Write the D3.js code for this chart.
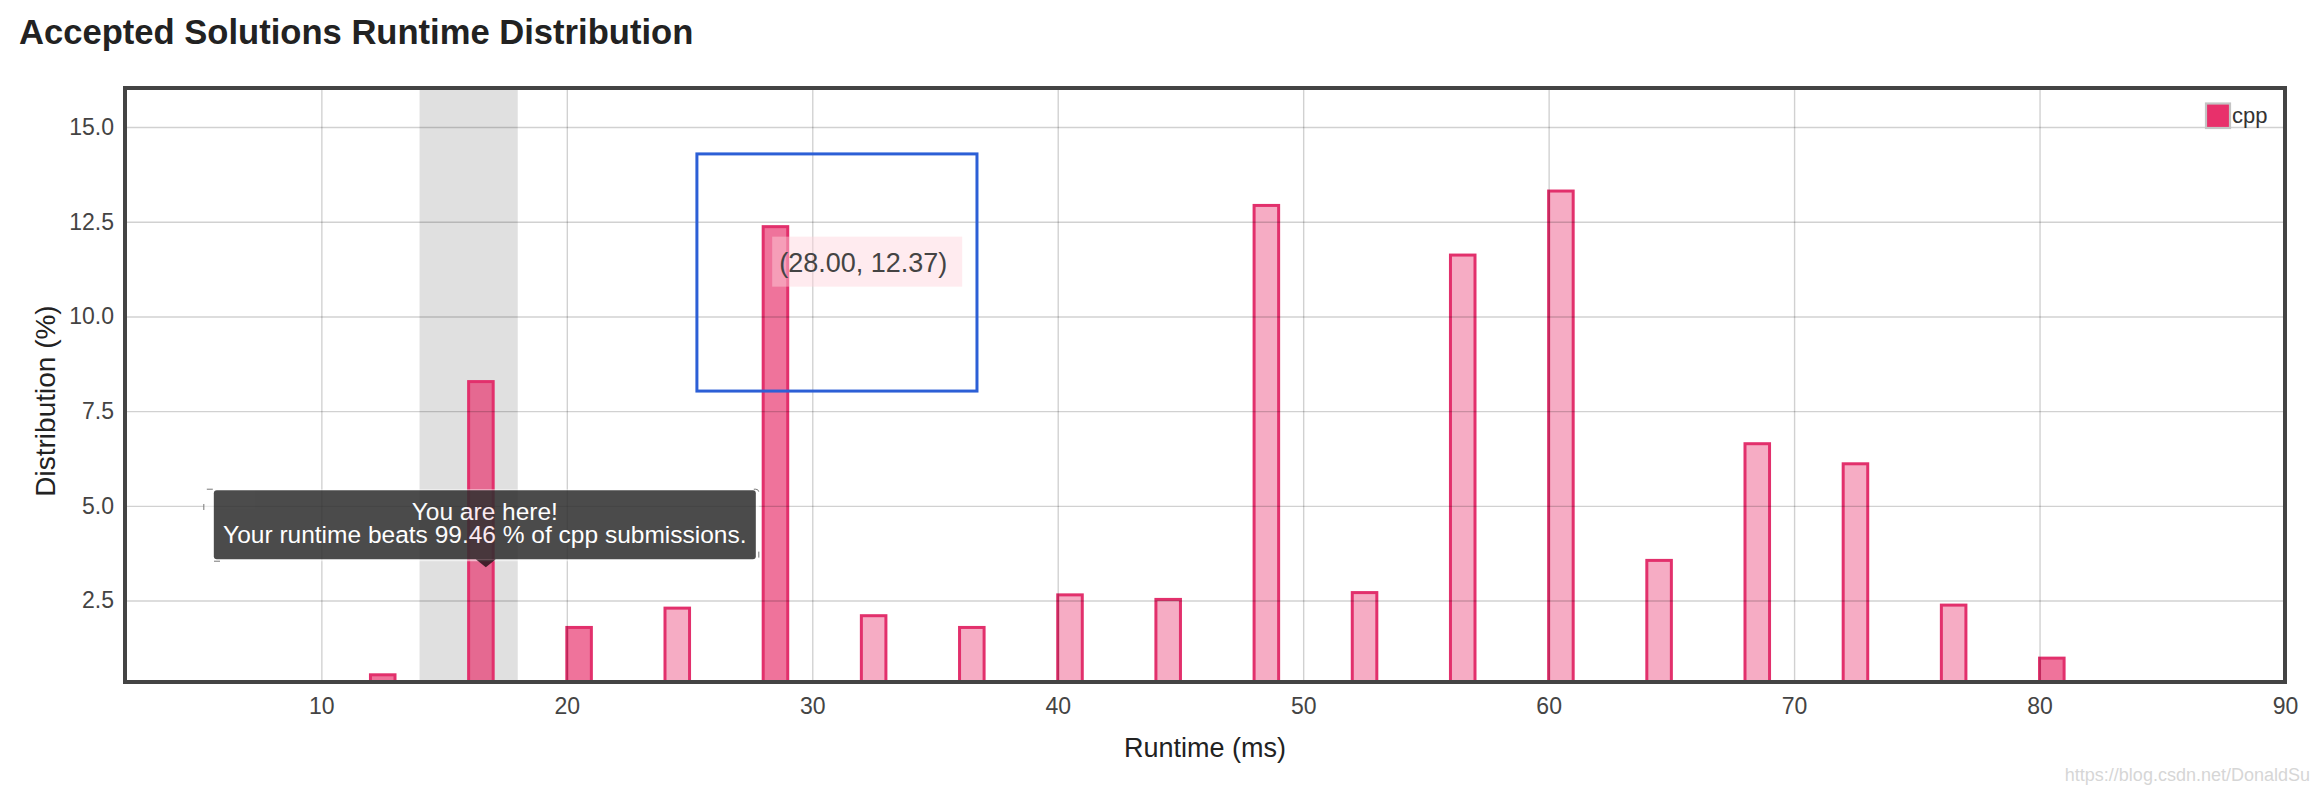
<!DOCTYPE html>
<html><head><meta charset="utf-8">
<script src="https://cdn.jsdelivr.net/npm/d3@7"></script>
<style>
html,body{margin:0;padding:0;background:#fff;}
svg{display:block;font-family:"Liberation Sans",Arial,Helvetica,sans-serif;}
</style></head><body>
<svg id="chart" width="2320" height="792"></svg>
<script>
// ---- data ----
const runtimes = [12, 16, 20, 24, 28, 32, 36, 40, 44, 48, 52, 56, 60, 64, 68, 72, 76, 80];
const distribution = [0.54, 8.28, 1.79, 2.30, 12.37, 2.10, 1.79, 2.65, 2.53, 12.93, 2.71, 11.62, 13.31, 3.56, 6.64, 6.11, 2.38, 0.98];
const darkBars = [12, 16, 20, 28, 80];
const xTicks = [10, 20, 30, 40, 50, 60, 70, 80, 90];
const yTicks = [2.5, 5.0, 7.5, 10.0, 12.5, 15.0];
const xDomain = [2, 90];
const yDomain = [0.35, 16.03];
const yourBin = [14, 18];
const seriesName = "cpp";
const hovered = {x: 28, y: 12.37};
const beatsPct = 99.46;
const titleText = "Accepted Solutions Runtime Distribution";
const xLabel = "Runtime (ms)";
const yLabel = "Distribution (%)";
const watermark = "https://blog.csdn.net/DonaldSu";
// annotation box (data units)
const annot = {x0: 25.3, x1: 36.71, y0: 8.03, y1: 14.29};
const tipAnchor = {x: 16.7, y: 3.38};

// ---- layout ----
const svg = d3.select("#chart");
const L = 125, R = 2285, T = 88, B = 682;
const x = d3.scaleLinear().domain(xDomain).range([L, R]);
const y = d3.scaleLinear().domain(yDomain).range([B, T]);
const data = runtimes.map((r, i) => ({r, v: distribution[i], dark: darkBars.includes(r)}));

svg.append("defs").append("clipPath").attr("id", "plotclip")
  .append("rect").attr("x", L).attr("y", T).attr("width", R - L).attr("height", B - T);

// title
svg.append("text").attr("x", 19).attr("y", 44)
  .attr("font-size", 34.6).attr("font-weight", "bold").attr("fill", "#222")
  .text(titleText);

const plot = svg.append("g").attr("clip-path", "url(#plotclip)");

// your bin band
plot.append("rect")
  .attr("x", x(yourBin[0])).attr("width", x(yourBin[1]) - x(yourBin[0]))
  .attr("y", T).attr("height", B - T).attr("fill", "#e0e0e0");

// bars
plot.selectAll("rect.bar").data(data).enter().append("rect")
  .attr("class", "bar")
  .attr("x", d => x(d.r))
  .attr("width", d => x(d.r + 1) - x(d.r))
  .attr("y", d => y(d.v))
  .attr("height", d => B + 4 - y(d.v))
  .attr("fill", d => d.dark ? "rgba(232,48,107,0.68)" : "rgba(232,48,107,0.40)")
  .attr("stroke", "#e2306c").attr("stroke-width", 3);

// grid
const gridY = svg.append("g").attr("transform", `translate(${L},0)`)
  .call(d3.axisLeft(y).tickValues(yTicks).tickSize(-(R - L)).tickFormat(""));
gridY.select(".domain").remove();
gridY.selectAll("line").attr("stroke", "rgba(0,0,0,0.18)").attr("stroke-width", 1.4);
const gridX = svg.append("g").attr("transform", `translate(0,${B})`)
  .call(d3.axisBottom(x).tickValues(xTicks.filter(t => t < xDomain[1])).tickSize(-(B - T)).tickFormat(""));
gridX.select(".domain").remove();
gridX.selectAll("line").attr("stroke", "rgba(0,0,0,0.18)").attr("stroke-width", 1.4);

// frame
svg.append("rect").attr("x", L).attr("y", T).attr("width", R - L).attr("height", B - T)
  .attr("fill", "none").attr("stroke", "#444").attr("stroke-width", 4);

// axes labels
const yAxis = svg.append("g").attr("transform", `translate(${L},0)`)
  .call(d3.axisLeft(y).tickValues(yTicks).tickFormat(d3.format(".1f")).tickSize(0).tickPadding(11));
yAxis.select(".domain").remove();
yAxis.selectAll("text").attr("font-size", 23).attr("fill", "#444").attr("font-family", null);

const xAxis = svg.append("g").attr("transform", `translate(0,${B})`)
  .call(d3.axisBottom(x).tickValues(xTicks).tickFormat(d3.format("d")).tickSize(0).tickPadding(16));
xAxis.select(".domain").remove();
xAxis.selectAll("text").attr("font-size", 23).attr("fill", "#444").attr("font-family", null);

svg.append("text").attr("x", (L + R) / 2).attr("y", 757).attr("text-anchor", "middle")
  .attr("font-size", 27).attr("fill", "#222").text(xLabel);
svg.append("text").attr("transform", `translate(55,401) rotate(-90)`)
  .attr("text-anchor", "middle").attr("font-size", 28).attr("fill", "#222").text(yLabel);

// legend
const lg = svg.append("g");
lg.append("rect").attr("x", 2206).attr("y", 103.5).attr("width", 24).attr("height", 24.5)
  .attr("fill", "#e8306b").attr("stroke", "#c4c4c4").attr("stroke-width", 2.2);
lg.append("text").attr("x", 2232).attr("y", 123).attr("font-size", 22).attr("fill", "#333").text(seriesName);

// hovered value label
const hx = x(hovered.x), hy = y(hovered.y);
svg.append("rect").attr("x", hx + 9).attr("y", hy + 10).attr("width", 190).attr("height", 50)
  .attr("fill", "rgba(255,210,220,0.45)");
svg.append("text").attr("x", hx + 16).attr("y", hy + 45).attr("font-size", 27).attr("fill", "#444")
  .text(`(${hovered.x.toFixed(2)}, ${hovered.y.toFixed(2)})`);

// annotation box
svg.append("rect").attr("x", x(annot.x0)).attr("y", y(annot.y1))
  .attr("width", x(annot.x1) - x(annot.x0)).attr("height", y(annot.y0) - y(annot.y1))
  .attr("fill", "none").attr("stroke", "#2c5fd6").attr("stroke-width", 3);

// "You are here" tooltip
const tx = x(tipAnchor.x), ty = y(tipAnchor.y);
const tipW = 542, tipH = 69;
const tip = svg.append("g");
tip.append("rect").attr("x", tx - 282).attr("y", ty - tipH - 9).attr("width", 555).attr("height", 72)
  .attr("rx", 3).attr("fill", "rgba(255,255,255,0.55)").attr("stroke", "#777").attr("stroke-width", 1)
  .attr("stroke-dasharray", "6,541,6,60,6,541,6,60");
const tipInner = tip.append("g").attr("opacity", 0.7);
tipInner.append("rect").attr("x", tx - tipW / 2 - 1).attr("y", ty - tipH - 8).attr("width", tipW).attr("height", tipH)
  .attr("rx", 3).attr("fill", "#000");
tipInner.append("path").attr("d", `M${tx - 10},${ty - 8}L${tx},${ty}L${tx + 10},${ty - 8}Z`).attr("fill", "#000");
tipInner.append("text").attr("x", tx - 1).attr("y", ty - 47).attr("text-anchor", "middle")
  .attr("font-size", 24.5).attr("fill", "#fff").text("You are here!");
tipInner.append("text").attr("x", tx - 1).attr("y", ty - 24).attr("text-anchor", "middle")
  .attr("font-size", 24.5).attr("fill", "#fff")
  .text(`Your runtime beats ${beatsPct.toFixed(2)} % of ${seriesName} submissions.`);

// watermark
svg.append("text").attr("x", 2310).attr("y", 781).attr("text-anchor", "end")
  .attr("font-size", 18).attr("fill", "#d6d6d6").text(watermark);
</script>
</body></html>
